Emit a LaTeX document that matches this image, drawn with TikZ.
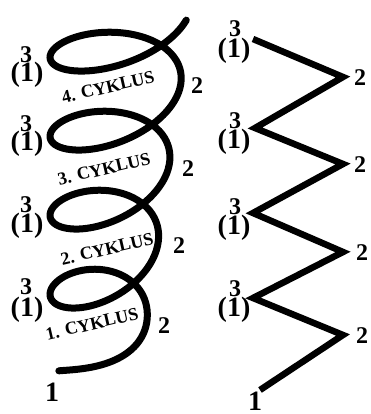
\documentclass[tikz,border=0pt]{standalone}
\usepackage{fontspec}
\setmainfont{Liberation Serif}
\usepackage{tikz}

\begin{document}
\begin{tikzpicture}[
		x=1pt, y=-1pt,
		coil/.style={line width=7pt, line cap=round},
		zig/.style={line width=6.5pt, line join=miter},
		num/.style={font=\fontsize{24}{24}\selectfont\bfseries, inner sep=0pt},
		big/.style={font=\fontsize{28}{28}\selectfont\bfseries, inner sep=0pt},
		cyc/.style={font=\fontsize{18}{18}\selectfont\bfseries, inner sep=0pt, rotate=13}
	]
	\useasboundingbox (0,0) rectangle (371,414);

	% helix (left)
	\draw[coil] plot[domain=-0.4:3.94, samples=320, smooth]
		({98.65+5.65*\x+(48.65+5.65*\x)*cos(360*\x)},
		 {325.2-79*\x-8.6*cos(360*\x)-(36+60*min(\x,0))*sin(360*\x)});

	\node[num] (h3d) at (26,55) {3};
	\node[big] (h1d) at (27,75) {(1)};
	\node[num] (h3c) at (26,124) {3};
	\node[big] (h1c) at (27,144) {(1)};
	\node[num] (h3b) at (26,205) {3};
	\node[big] (h1b) at (27,226) {(1)};
	\node[num] (h3a) at (26,287) {3};
	\node[big] (h1a) at (27,310) {(1)};

	\node[num] (h2d) at (197,86) {2};
	\node[num] (h2c) at (188,169) {2};
	\node[num] (h2b) at (179,246) {2};
	\node[num] (h2a) at (164,326) {2};
	\node[big] (hstart) at (52,392) {1};

	\node[cyc] (cyk4) at (108,87) {4. CYKLUS};
	\node[cyc] (cyk3) at (104,169) {3. CYKLUS};
	\node[cyc] (cyk2) at (107,249) {2. CYKLUS};
	\node[cyc] (cyk1) at (92,324) {1. CYKLUS};

	% zigzag (right)
	\coordinate (z0) at (260,390);
	\coordinate (z1) at (343,335);
	\coordinate (z2) at (253,298);
	\coordinate (z3) at (343,252);
	\coordinate (z4) at (253,213);
	\coordinate (z5) at (343,164);
	\coordinate (z6) at (255,128);
	\coordinate (z7) at (343,77);
	\coordinate (z8) at (253,39);
	\draw[zig] (z0) -- (z1) -- (z2) -- (z3) -- (z4) -- (z5) -- (z6) -- (z7) -- (z8);

	\node[num] (r3d) at (235,29) {3};
	\node[big] (r1d) at (234,51) {(1)};
	\node[num] (r3c) at (235,121) {3};
	\node[big] (r1c) at (234,142) {(1)};
	\node[num] (r3b) at (235,207) {3};
	\node[big] (r1b) at (234,228) {(1)};
	\node[num] (r3a) at (235,289) {3};
	\node[big] (r1a) at (234,310) {(1)};

	\node[num] (r2d) at (360,78) {2};
	\node[num] (r2c) at (360,165) {2};
	\node[num] (r2b) at (362,253) {2};
	\node[num] (r2a) at (362,336) {2};
	\node[big] (rstart) at (255,401) {1};
\end{tikzpicture}
\end{document}
